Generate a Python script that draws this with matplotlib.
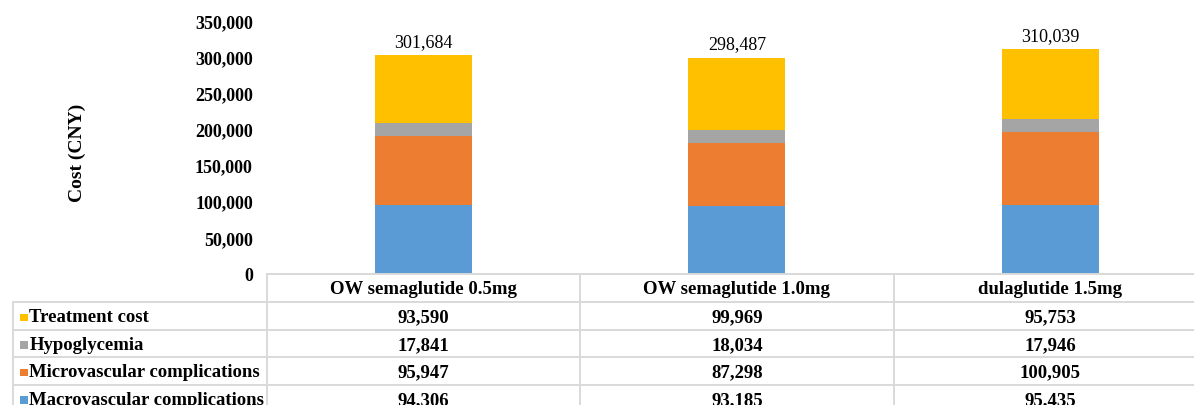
import matplotlib
matplotlib.use("Agg")
import matplotlib.pyplot as plt
import matplotlib.transforms as mtransforms
from matplotlib.lines import Line2D
from matplotlib.patches import Rectangle

plt.rcParams['font.family'] = ['Liberation Serif', 'DejaVu Serif']

# Data
groups = ["OW semaglutide 0.5mg", "OW semaglutide 1.0mg", "dulaglutide 1.5mg"]
macro = [94306, 93185, 95435]
micro = [95947, 87298, 100905]
hypo = [17841, 18034, 17946]
treat = [93590, 99969, 95753]
totals = [301684, 298487, 310039]

series_names = ["Macrovascular complications", "Microvascular complications",
                "Hypoglycemia", "Treatment cost"]
series_vals = [macro, micro, hypo, treat]
colors = ["#5B9BD5", "#ED7D31", "#A5A5A5", "#FFC000"]

W, H = 1194, 406
fig = plt.figure(figsize=(W / 100, H / 100), dpi=100)

def fx(px):
    return px / W

def fy(py):
    return 1 - py / H

x0, x1 = 266.7, 1207.0
ybase, ytop = 274.5, 21.5
ax = fig.add_axes([fx(x0), fy(ybase), fx(x1) - fx(x0), fy(ytop) - fy(ybase)])

xs = list(range(len(groups)))
bottom = [0, 0, 0]
bars = None
for name, vals, c in zip(series_names, series_vals, colors):
    bars = ax.bar(xs, vals, width=0.31, bottom=bottom, color=c, label=name)
    bottom = [b + v for b, v in zip(bottom, vals)]

ax.bar_label(bars, labels=[f"{t:,}" for t in totals], padding=4, fontsize=13)

ax.set_xlim(-0.5, 2.5)
ax.set_ylim(0, 350000)
ax.set_yticks(range(0, 350001, 50000))
ax.set_yticklabels([f"{v:,}" for v in range(0, 350001, 50000)],
                   fontweight="bold", fontsize=13)
ax.tick_params(axis="y", length=0, pad=10)
ax.set_xticks([])
for s in ax.spines.values():
    s.set_visible(False)

# y axis title
fig.text(fx(77.5), fy(153), "Cost (CNY)", rotation=90, ha="center", va="center",
         fontweight="bold", fontsize=14)

# Data table under the chart
grid_c = "#d9d9d9"
lw = 1.4
trans = mtransforms.blended_transform_factory(ax.transData, fig.transFigure)
row_lines = [303.0, 330.5, 358.0, 385.5, 413.0]

# header row
fig.add_artist(Line2D([fx(x0), 1.0], [fy(ybase), fy(ybase)], color=grid_c, lw=lw))
for i, g in enumerate(groups):
    fig.text(i, fy((ybase + row_lines[0]) / 2 + 1), g, transform=trans,
             ha="center", va="center", fontsize=13.5, fontweight="bold")

# horizontal lines
for ry in row_lines:
    fig.add_artist(Line2D([fx(13.3), 1.0], [fy(ry), fy(ry)], color=grid_c, lw=lw))

# vertical lines
fig.add_artist(Line2D([fx(13.3), fx(13.3)], [fy(row_lines[0]), fy(row_lines[-1])],
                      color=grid_c, lw=lw))
for b in [-0.5, 0.5, 1.5]:
    fig.add_artist(Line2D([b, b], [fy(ybase), fy(row_lines[-1])], color=grid_c,
                          lw=lw, transform=trans))

# rows (top to bottom: reverse stack order)
for r, k in enumerate(reversed(range(len(series_names)))):
    cy = (row_lines[r] + row_lines[r + 1]) / 2 + 1
    fig.add_artist(Rectangle((fx(20), fy(cy + 4.5)), fx(7.5), 7.5 / H,
                             color=colors[k], lw=0))
    fig.text(fx(29.3), fy(cy), series_names[k], ha="left", va="center",
             fontsize=13.5, fontweight="bold")
    for i, v in enumerate(series_vals[k]):
        fig.text(i, fy(cy), f"{v:,}", transform=trans, ha="center", va="center",
                 fontsize=13.5, fontweight="bold")

fig.savefig("out.png", dpi=100)
